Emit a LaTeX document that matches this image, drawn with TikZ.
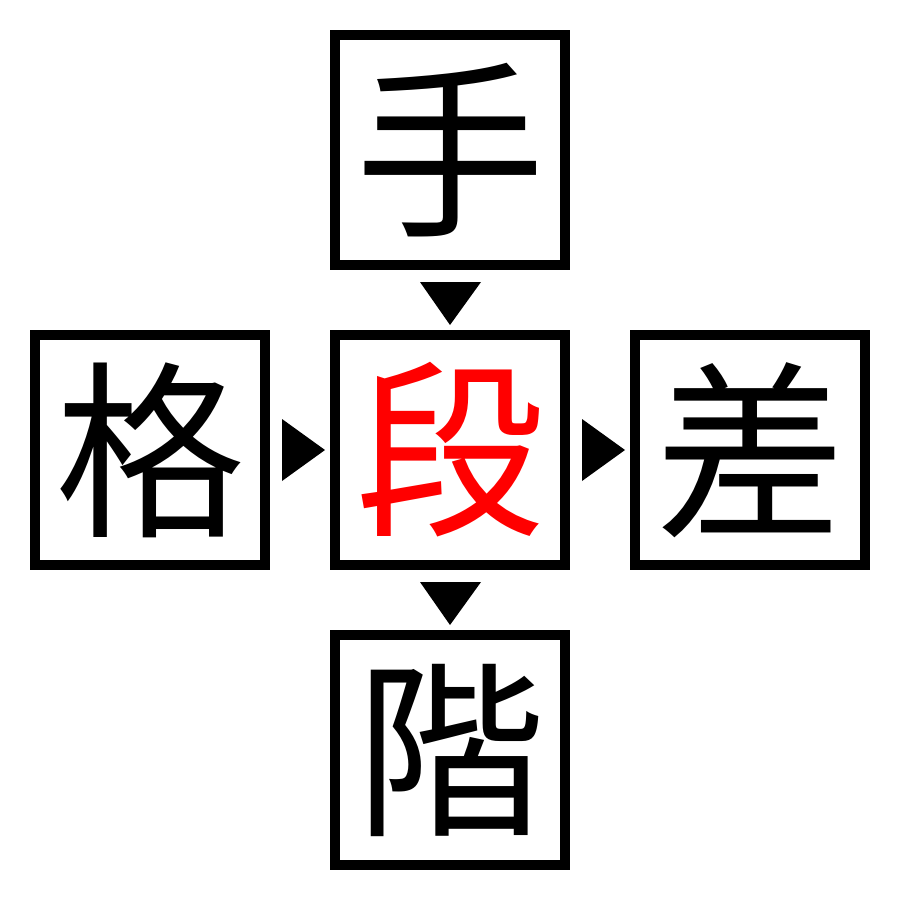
\documentclass[tikz,border=0pt]{standalone}
\usepackage{fontspec}
\newfontfamily\cjk{Noto Sans CJK JP}
\begin{document}
\begin{tikzpicture}[x=0.01cm,y=-0.01cm,
  kbox/.style={draw=black,line width=0.1cm,minimum size=2.3cm,inner sep=0pt,fill=white,font=\cjk\fontsize{54}{54}\selectfont},
  tri/.style={fill=black,draw=none}]
\useasboundingbox (0,0) rectangle (900,900);
\node[kbox] (top) at (450,150) {手};
\node[kbox] (left) at (150,450) {格};
\node[kbox,text=red] (mid) at (450,450) {段};
\node[kbox] (right) at (750,450) {差};
\node[kbox] (bot) at (450,750) {階};
\fill[tri] (420,282) -- (481,282) -- (450,325) -- cycle;
\fill[tri] (420,582) -- (481,582) -- (450,625) -- cycle;
\fill[tri] (282,419) -- (282,481) -- (325,450) -- cycle;
\fill[tri] (582,419) -- (582,481) -- (625,450) -- cycle;
\end{tikzpicture}
\end{document}
